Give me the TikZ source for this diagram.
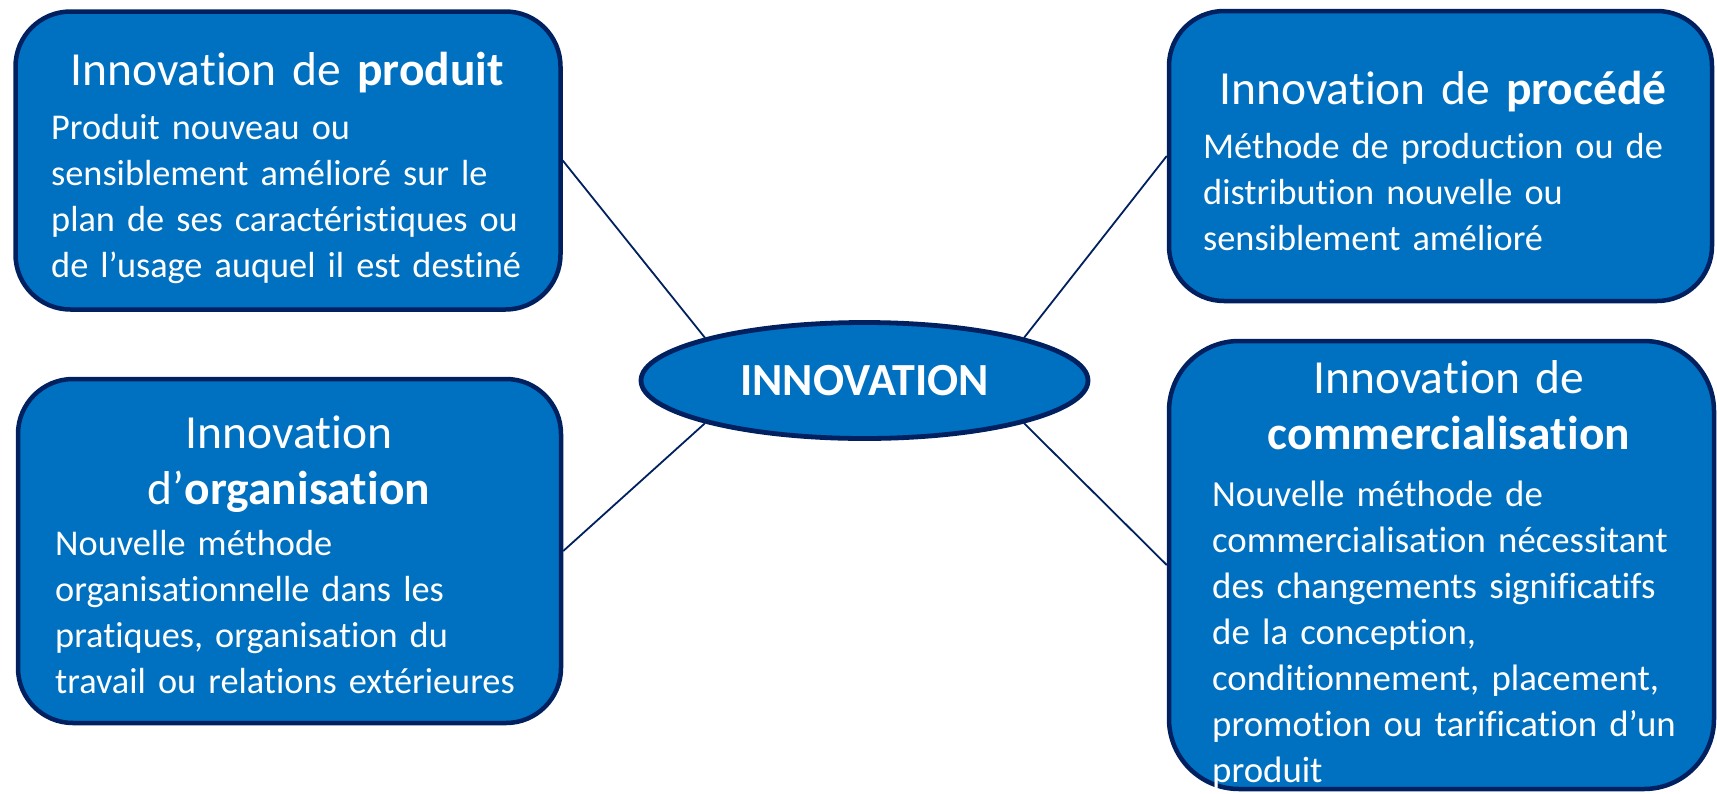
\documentclass[tikz,border=0pt]{standalone}
\usepackage{fontspec}
\setmainfont{Carlito}[Ligatures={NoCommon}]
\usetikzlibrary{shapes.geometric}
\definecolor{boxfill}{HTML}{0070C0}
\definecolor{boxline}{HTML}{002060}
\begin{document}
\begin{tikzpicture}[x=1pt,y=-1pt,
  card/.style={draw=boxline, line width=4.5pt, fill=boxfill, inner sep=0pt, rectangle},
  hub/.style={ellipse, draw=boxline, line width=4.8pt, fill=boxfill, inner sep=0pt,
    minimum width=447pt, minimum height=116pt, text=white,
    font=\fontsize{46}{55}\selectfont\bfseries},
  ttl/.style={text=white, inner sep=0pt, text width=540pt, align=center,
    font=\fontsize{47.5}{56}\selectfont},
  txt/.style={text=white, inner sep=0pt, text width=520pt, align=left,
    font=\fontsize{36.3}{46}\selectfont},
  link/.style={draw=boxline, line width=1.8pt}]
\useasboundingbox (0,0) rectangle (1717,793);
% boxes
\node[card, rounded corners=55pt, minimum width=545pt, minimum height=298pt] (b1) at (288,160.5) {};
\node[card, rounded corners=55pt, minimum width=543pt, minimum height=290pt] (b2) at (1440.5,156) {};
\node[card, rounded corners=55pt, minimum width=543pt, minimum height=344pt] (b3) at (289.5,551) {};
\node[card, rounded corners=70pt, minimum width=545pt, minimum height=448pt] (b4) at (1441.5,565) {};
\node[hub] (e) at (864.5,380.5) {INNOVATION};
% connectors
\draw[link] (b1.east) -- (e.165);
\draw[link] (e.15) -- (b2.west);
\draw[link] (b3.east) -- (e.195);
\draw[link] (e.345) -- (b4.west);
% texts
\node[ttl, anchor=base] (t1) at (287,85) {Innovation de \textbf{produit}};
\node[txt, anchor=base west] (d1) at (51,139) {Produit nouveau ou\\sensiblement amélioré sur le\\plan de ses caractéristiques ou\\de l’usage auquel il est destiné};
\node[ttl, anchor=base] (t2) at (1443,104) {Innovation de \textbf{procédé}};
\node[txt, anchor=base west] (d2) at (1203,158) {Méthode de production ou de\\distribution nouvelle ou\\sensiblement amélioré};
\node[ttl, anchor=base] (t3) at (289,448) {Innovation\\d’\textbf{organisation}};
\node[txt, anchor=base west] (d3) at (55,555) {Nouvelle méthode\\organisationnelle dans les\\pratiques, organisation du\\travail ou relations extérieures};
\node[ttl, anchor=base] (t4) at (1449,393) {Innovation de\\\textbf{commercialisation}};
\node[txt, anchor=base west, font=\fontsize{36.8}{46}\selectfont] (d4) at (1212,506) {Nouvelle méthode de\\commercialisation nécessitant\\des changements significatifs\\de la conception,\\conditionnement, placement,\\promotion ou tarification d’un\\produit};
\end{tikzpicture}
\end{document}
